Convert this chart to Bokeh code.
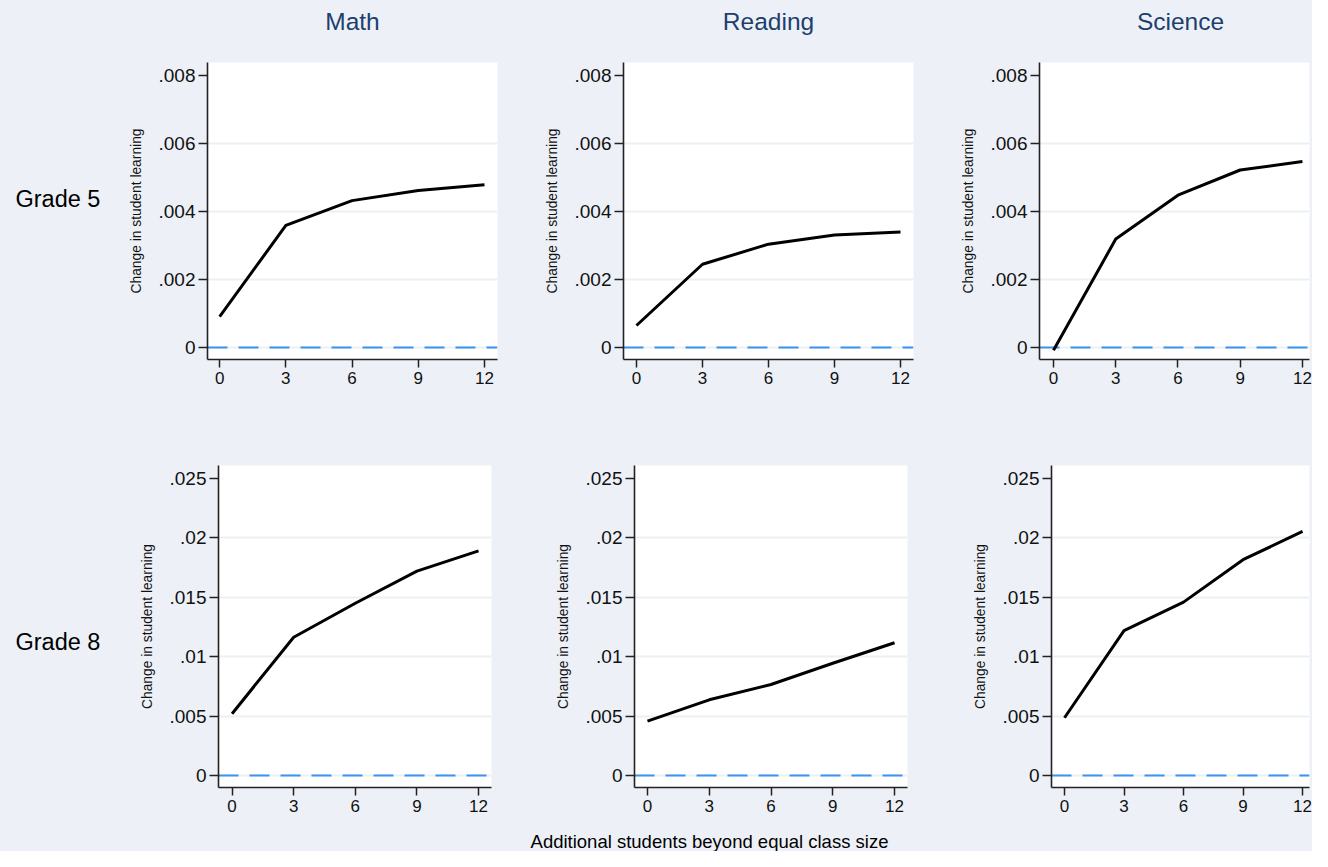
from bokeh.plotting import figure
from bokeh.layouts import row, column
from bokeh.models import FixedTicker, CustomJSTickFormatter, Span, Range1d
from bokeh.core.properties import value
from bokeh.embed import file_html
from bokeh.resources import INLINE

# ---------------- data ----------------
subjects = ["Math", "Reading", "Science"]
grades = ["Grade 5", "Grade 8"]
extra_students = [0, 3, 6, 9, 12]

g5_math = [0.00091, 0.00359, 0.00432, 0.00462, 0.00479]
g5_reading = [0.00065, 0.00245, 0.00304, 0.00331, 0.00340]
g5_science = [-0.00008, 0.00319, 0.00448, 0.00522, 0.00547]

g8_math = [0.0052, 0.01164, 0.0145, 0.0172, 0.0189]
g8_reading = [0.00457, 0.00637, 0.00766, 0.00945, 0.01117]
g8_science = [0.00486, 0.0122, 0.01459, 0.01816, 0.02054]

x_ticks = [0, 3, 6, 9, 12]
y_ticks_g5 = [0, 0.002, 0.004, 0.006, 0.008]
y_ticks_g8 = [0, 0.005, 0.01, 0.015, 0.02, 0.025]
y_label = "Change in student learning"
x_label = "Additional students beyond equal class size"

# ---------------- style ----------------
BG = "#edf1f7"
NAVY = "#1c3f6e"
FONT = "Liberation Sans"
AXIS_COL = "#222222"
GRID_COL = "#eceff4"
ZERO_COL = "#3b93f0"


def make_panel(xs, ys, width, height, mbl, mbr, mbt, mbb, xr, yr, yticks):
    p = figure(width=width, height=height, output_backend="svg", toolbar_location=None,
               x_range=Range1d(*xr), y_range=Range1d(*yr), title=None,
               min_border_left=mbl, min_border_right=mbr,
               min_border_top=mbt, min_border_bottom=mbb)
    p.background_fill_color = "white"
    p.border_fill_color = BG
    p.outline_line_color = None

    # axes
    p.xaxis.ticker = FixedTicker(ticks=x_ticks, minor_ticks=[])
    p.yaxis.ticker = FixedTicker(ticks=yticks, minor_ticks=[])
    p.yaxis.formatter = CustomJSTickFormatter(
        code="return tick == 0 ? '0' : tick.toString().replace(/^0\\./, '.');")
    for ax in (p.xaxis, p.yaxis):
        ax.axis_line_color = AXIS_COL
        ax.axis_line_width = 1.6
        ax.major_tick_line_color = AXIS_COL
        ax.major_tick_line_width = 1.5
        ax.major_tick_in = 0
        ax.minor_tick_line_color = None
        ax.major_label_text_font = FONT
        ax.major_label_text_color = "#111111"
    p.xaxis.major_tick_out = 8
    p.xaxis.major_label_standoff = 4
    p.xaxis.major_label_text_font_size = "17px"
    p.yaxis.major_tick_out = 9
    p.yaxis.major_label_standoff = 3
    p.yaxis.major_label_text_font_size = "19px"
    p.yaxis.axis_label = y_label
    p.yaxis.axis_label_text_font = FONT
    p.yaxis.axis_label_text_font_size = "13.8px"
    p.yaxis.axis_label_text_font_style = "normal"
    p.yaxis.axis_label_text_color = "#111111"
    p.yaxis.axis_label_standoff = 12

    # grid
    p.xgrid.visible = False
    p.ygrid.ticker = FixedTicker(ticks=yticks[:-1], minor_ticks=[])
    p.ygrid.grid_line_color = GRID_COL
    p.ygrid.grid_line_width = 2

    zero = Span(location=0, dimension="width", line_color=ZERO_COL, line_width=2,
                line_dash="20 11", level="underlay")
    p.add_layout(zero)

    p.line(xs, ys, line_color="black", line_width=3, line_join="round")
    return p


def text_fig(width, height, xs, ys, texts, size, align, color="black",
             mbt=0, mbb=0):
    fh = height - mbt - mbb
    f = figure(width=width, height=height, output_backend="svg", toolbar_location=None,
               x_range=Range1d(0, width), y_range=Range1d(0, fh), title=None,
               x_axis_type=None, y_axis_type=None, min_border=0,
               min_border_top=mbt, min_border_bottom=mbb)
    f.background_fill_color = BG
    f.border_fill_color = BG
    f.outline_line_color = None
    f.grid.visible = False
    f.text(x=xs, y=ys, text=texts, text_font=value(FONT), text_font_size=value(size),
           text_align=align, text_baseline="middle", text_color=color)
    return f


TOP = 44
H1, H2 = 412 - TOP, 418

# column titles
top = text_fig(1312, TOP, [352, 768, 1180], [TOP - 21] * 3, subjects, "24.5px",
               "center", color=NAVY)

# Row 1 (Grade 5): frame from y=62 to y=359
lab1 = text_fig(110, H1, [15], [359 - 198], [grades[0]], "23.5px", "left",
                mbt=18, mbb=53)
p11 = make_panel(extra_students, g5_math, 420, H1, 97, 33, 18, 53,
                 (-0.55, 12.59), (-0.00035, 0.00838), y_ticks_g5)
p12 = make_panel(extra_students, g5_reading, 415, H1, 93, 32, 18, 53,
                 (-0.59, 12.59), (-0.00035, 0.00838), y_ticks_g5)
p13 = make_panel(extra_students, g5_science, 367, H1, 94, 3, 18, 53,
                 (-0.675, 12.34), (-0.00035, 0.00838), y_ticks_g5)

# Row 2 (Grade 8): frame from y=465 to y=787
lab2 = text_fig(110, H2, [15], [787 - 641], [grades[1]], "23.5px", "left",
                mbt=53, mbb=43)
p21 = make_panel(extra_students, g8_math, 420, H2, 108, 39, 53, 43,
                 (-0.66, 12.63), (-0.00101, 0.02609), y_ticks_g8)
p22 = make_panel(extra_students, g8_reading, 415, H2, 104, 38, 53, 43,
                 (-0.63, 12.63), (-0.00101, 0.02609), y_ticks_g8)
p23 = make_panel(extra_students, g8_science, 367, H2, 106, 3, 53, 43,
                 (-0.656, 12.35), (-0.00101, 0.02609), y_ticks_g8)

bottom = text_fig(1312, 21, [709], [10], [x_label], "18.5px", "center")

p = column(top, row(lab1, p11, p12, p13), row(lab2, p21, p22, p23), bottom)
p.styles = {"background-color": BG}

open("out.html", "w").write(file_html(p, INLINE))
